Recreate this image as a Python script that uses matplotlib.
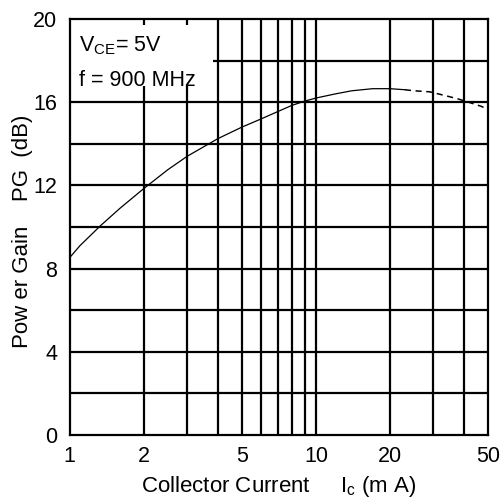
import matplotlib
matplotlib.use("Agg")
import matplotlib.pyplot as plt
from matplotlib.ticker import FixedLocator, NullFormatter, NullLocator
import matplotlib.patches as mpatches

plt.rcParams['font.family'] = ['Liberation Sans', 'DejaVu Sans']

# data
ic_solid = [1, 1.1, 1.33, 1.6, 2, 2.5, 3, 4, 5, 6, 7, 8, 9, 10, 12, 14, 17, 20, 23]
pg_solid = [8.53, 9.1, 10.05, 10.9, 11.85, 12.75, 13.4, 14.25, 14.8, 15.2, 15.55, 15.85, 16.05, 16.2,
            16.4, 16.55, 16.65, 16.65, 16.6]
ic_dash = [23, 25, 29, 34, 38, 43, 47, 50]
pg_dash = [16.6, 16.55, 16.5, 16.3, 16.15, 15.95, 15.8, 15.65]

x_ticks = [1, 2, 5, 10, 20, 50]
x_grid = [2, 3, 4, 5, 6, 7, 8, 9, 10, 20, 30, 40]
y_ticks = [0, 4, 8, 12, 16, 20]
y_grid = [2, 4, 6, 8, 10, 12, 14, 16, 18]

fig = plt.figure(figsize=(5.02, 5.01), dpi=100)
ax = fig.add_axes([0.139, 0.132, 0.833, 0.830])
ax.set_xscale('log')
ax.set_xlim(1, 50)
ax.set_ylim(0, 20)

for xv in x_grid:
    ax.axvline(xv, color='black', lw=1.6, zorder=1)
for yv in y_grid:
    ax.axhline(yv, color='black', lw=1.6, zorder=1)

ax.plot(ic_solid, pg_solid, color='black', lw=0.9, zorder=3)
ax.plot(ic_dash, pg_dash, color='black', lw=1.1, ls=(0, (4, 3)), zorder=3)

for s in ax.spines.values():
    s.set_linewidth(1.6)

ax.xaxis.set_major_locator(FixedLocator(x_ticks))
ax.xaxis.set_minor_locator(NullLocator())
ax.xaxis.set_minor_formatter(NullFormatter())
ax.set_xticks(x_ticks)
ax.set_xticklabels([str(v) for v in x_ticks])
ax.set_yticks(y_ticks)
ax.set_yticklabels([str(v) for v in y_ticks])
ax.tick_params(axis='x', length=0, labelsize=15.5, pad=8)
ax.tick_params(axis='y', length=0, labelsize=15.5, pad=9)

ax.set_xlabel('Collector Current     I$_{\\mathregular{c}}$ (m A)', fontsize=16, labelpad=5)
ax.set_ylabel('Pow er Gain    PG  (dB)', fontsize=16)
ax.yaxis.set_label_coords(-0.088, 0.49)

# white box behind condition text
box = mpatches.Rectangle((0.004, 0.84), 0.338, 0.145, transform=ax.transAxes,
                         facecolor='white', edgecolor='none', zorder=2)
ax.add_patch(box)
ax.text(0.022, 0.937, 'V$_{\\mathregular{CE}}$= 5V', transform=ax.transAxes,
        fontsize=15.5, va='center', ha='left', zorder=4)
ax.text(0.022, 0.853, 'f = 900 MHz', transform=ax.transAxes,
        fontsize=15.5, va='center', ha='left', zorder=4)

fig.savefig('out.png', dpi=100)
